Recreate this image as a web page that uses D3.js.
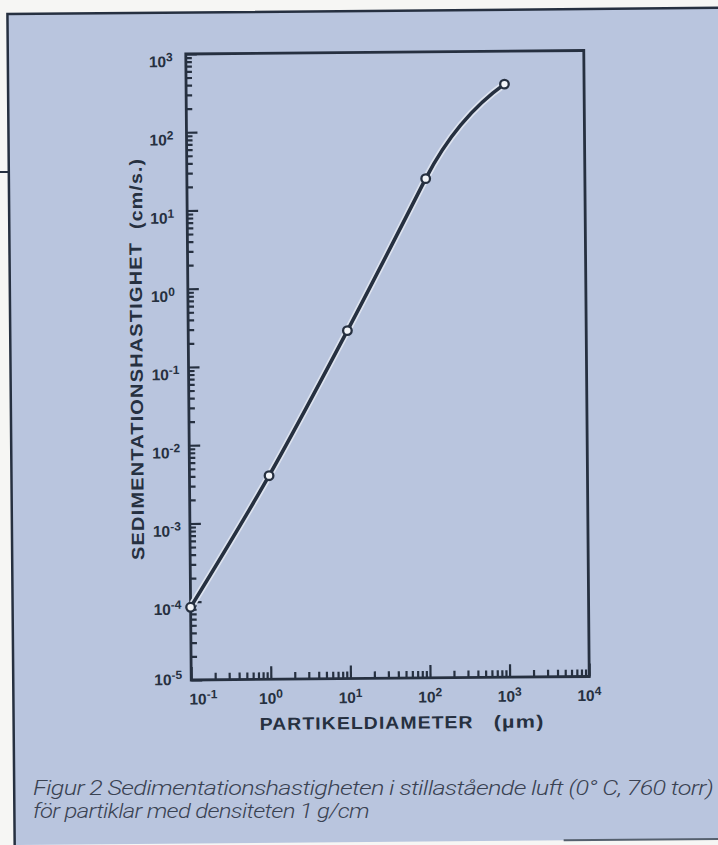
<!DOCTYPE html>
<html>
<head>
<meta charset="utf-8">
<script src="https://cdn.jsdelivr.net/npm/d3@7"></script>
<style>
  body { margin: 0; background: #f6f6f4; }
  svg { display: block; }
</style>
</head>
<body>
<div id="chart"></div>
<script>
// --- Data ---
// particle diameter (µm) and settling velocity (cm/s)
const diameter = [0.1, 1, 10, 100, 1000];
const velocity = [8.5e-5, 4e-3, 0.28, 24, 380];

// decades shown on each axis (exponents of 10)
const xExponents = [-1, 0, 1, 2, 3, 4];
const yExponents = [-5, -4, -3, -2, -1, 0, 1, 2, 3];

const xTitle = "PARTIKELDIAMETER";
const xUnit = "(µm)";
const yTitle = "SEDIMENTATIONSHASTIGHET";
const yUnit = "(cm/s.)";
const captionLines = [
    "Figur 2 Sedimentationshastigheten i stillastående luft (0° C, 760 torr)",
    "för partiklar med densiteten 1 g/cm"
];

// --- Layout ---
const w = 718;
const h = 845;
const plot = { left: 189, right: 587, top: 52.5, bottom: 678.5 };
const ink = "#263040";
const paper = "#b9c5de";
const boldFont = "Arial, 'Liberation Sans', sans-serif";

const svg = d3.select("#chart")
    .append("svg")
    .attr("width", w)
    .attr("height", h);

// the printed panel sits slightly crooked in the scan
const g = svg.append("g")
    .attr("transform", "rotate(-0.5 359 422)");

// panel background and its border
g.append("rect")
    .attr("x", 11).attr("y", 11)
    .attr("width", 730).attr("height", 831)
    .attr("fill", paper);

g.append("path")
    .attr("d", "M11,860 V11 H740")
    .attr("fill", "none")
    .attr("stroke", ink)
    .attr("stroke-width", 2.5);

g.append("line")
    .attr("x1", 560).attr("x2", 740)
    .attr("y1", 842).attr("y2", 842)
    .attr("stroke", "#55606e")
    .attr("stroke-width", 2);

g.append("line")
    .attr("x1", -5).attr("x2", 11)
    .attr("y1", 169).attr("y2", 169)
    .attr("stroke", ink)
    .attr("stroke-width", 2);

// --- Scales ---
const x = d3.scaleLog()
    .domain([1e-1, 1e4])
    .range([plot.left, plot.right]);

const y = d3.scaleLog()
    .domain([1e-5, 1e3])
    .range([plot.bottom, plot.top]);

function minorValues(exps) {
    const vals = [];
    exps.slice(0, -1).forEach(function (e) {
        for (let k = 2; k < 10; k++) vals.push(k * Math.pow(10, e));
    });
    return vals;
}

function styleAxis(sel) {
    sel.select(".domain").remove();
    sel.selectAll(".tick line")
        .attr("stroke", ink)
        .attr("stroke-width", 2.2);
}

// --- Axes (ticks point into the plot) ---
g.append("g")
    .attr("transform", "translate(" + plot.left + ",0)")
    .call(d3.axisRight(y)
        .tickValues(yExponents.map(function (e) { return Math.pow(10, e); }))
        .tickSize(11)
        .tickFormat(""))
    .call(styleAxis);

g.append("g")
    .attr("transform", "translate(" + plot.left + ",0)")
    .call(d3.axisRight(y)
        .tickValues(minorValues(yExponents))
        .tickSize(6)
        .tickFormat(""))
    .call(styleAxis);

g.append("g")
    .attr("transform", "translate(0," + plot.bottom + ")")
    .call(d3.axisTop(x)
        .tickValues(xExponents.map(function (e) { return Math.pow(10, e); }))
        .tickSize(13)
        .tickFormat(""))
    .call(styleAxis);

g.append("g")
    .attr("transform", "translate(0," + plot.bottom + ")")
    .call(d3.axisTop(x)
        .tickValues(minorValues(xExponents))
        .tickSize(7)
        .tickFormat(""))
    .call(styleAxis);

// plot frame
g.append("rect")
    .attr("x", plot.left)
    .attr("y", plot.top)
    .attr("width", plot.right - plot.left)
    .attr("height", plot.bottom - plot.top)
    .attr("fill", "none")
    .attr("stroke", ink)
    .attr("stroke-width", 2.8);

// --- Tick labels: 10 with a superscript exponent ---
function powerLabel(sel) {
    sel.append("tspan")
        .text("10");
    sel.append("tspan")
        .attr("dy", -6)
        .attr("font-size", "12px")
        .text(function (e) { return e < 0 ? "-" + (-e) : e; });
}

g.selectAll(".ylab")
    .data(yExponents)
    .enter()
    .append("text")
    .attr("class", "ylab")
    .attr("x", 152)
    .attr("y", function (e) {
        const ty = y(Math.pow(10, e));
        return e === yExponents[0] ? ty + 5 : ty + 13;
    })
    .attr("font-family", boldFont)
    .attr("font-weight", "bold")
    .attr("font-size", "15.5px")
    .attr("fill", ink)
    .call(powerLabel);

g.selectAll(".xlab")
    .data(xExponents)
    .enter()
    .append("text")
    .attr("class", "xlab")
    .attr("x", function (e, i) {
        return x(Math.pow(10, e)) + (i === 0 ? 12 : 0);
    })
    .attr("y", 703)
    .attr("text-anchor", "middle")
    .attr("font-family", boldFont)
    .attr("font-weight", "bold")
    .attr("font-size", "15.5px")
    .attr("fill", ink)
    .call(powerLabel);

// --- Axis titles (wide bold lettering) ---
function title(sel, len) {
    sel.attr("textLength", len)
        .attr("lengthAdjust", "spacingAndGlyphs")
        .attr("font-family", boldFont)
        .attr("font-weight", "bold")
        .attr("font-size", "17.5px")
        .attr("letter-spacing", "1px")
        .attr("fill", ink);
}

g.append("text")
    .attr("x", 257).attr("y", 729)
    .call(title, 214)
    .text(xTitle);

g.append("text")
    .attr("x", 491).attr("y", 729)
    .call(title, 51)
    .text(xUnit);

g.append("text")
    .attr("transform", "translate(143,558) rotate(-90)")
    .call(title, 318)
    .text(yTitle);

g.append("text")
    .attr("transform", "translate(144,227) rotate(-90)")
    .call(title, 71)
    .text(yUnit);

// --- Curve and measured points ---
const points = diameter.map(function (d, i) { return [d, velocity[i]]; });

const line = d3.line()
    .x(function (d) { return x(d[0]); })
    .y(function (d) { return y(d[1]); })
    .curve(d3.curveMonotoneX);

// straight run up to 100 µm, then bending over towards 1000 µm
function curvePath() {
    const a = points[points.length - 3];
    const b = points[points.length - 2];
    const c = points[points.length - 1];
    const bx = x(b[0]), by = y(b[1]);
    const cpx = bx + 0.4 * (bx - x(a[0]));
    const cpy = by + 0.4 * (by - y(a[1]));
    return line(points.slice(0, -1)) +
        "Q" + cpx + "," + cpy + " " + x(c[0]) + "," + y(c[1]);
}

g.append("path")
    .attr("d", curvePath())
    .attr("fill", "none")
    .attr("stroke", "#dde3ef")
    .attr("stroke-width", 7)
    .attr("stroke-linecap", "round");

g.append("path")
    .attr("d", curvePath())
    .attr("fill", "none")
    .attr("stroke", ink)
    .attr("stroke-width", 3.6)
    .attr("stroke-linecap", "round");

g.selectAll(".pt")
    .data(points)
    .enter()
    .append("circle")
    .attr("class", "pt")
    .attr("cx", function (d) { return x(d[0]); })
    .attr("cy", function (d) { return y(d[1]); })
    .attr("r", 4.3)
    .attr("fill", "#f2f4f8")
    .attr("stroke", ink)
    .attr("stroke-width", 2.3);

// --- Caption (printed straight) ---
svg.selectAll(".caption")
    .data(captionLines)
    .enter()
    .append("text")
    .attr("class", "caption")
    .attr("x", 33)
    .attr("y", function (d, i) { return 795 + i * 23; })
    .attr("textLength", function (d, i) { return i === 0 ? 680 : 336; })
    .attr("lengthAdjust", "spacingAndGlyphs")
    .attr("font-family", "Roboto, 'Liberation Sans', sans-serif")
    .attr("font-weight", 300)
    .attr("font-style", "italic")
    .attr("font-size", "21px")
    .attr("letter-spacing", "-0.6px")
    .attr("fill", "#3a4252")
    .text(function (d) { return d; });
</script>
</body>
</html>
